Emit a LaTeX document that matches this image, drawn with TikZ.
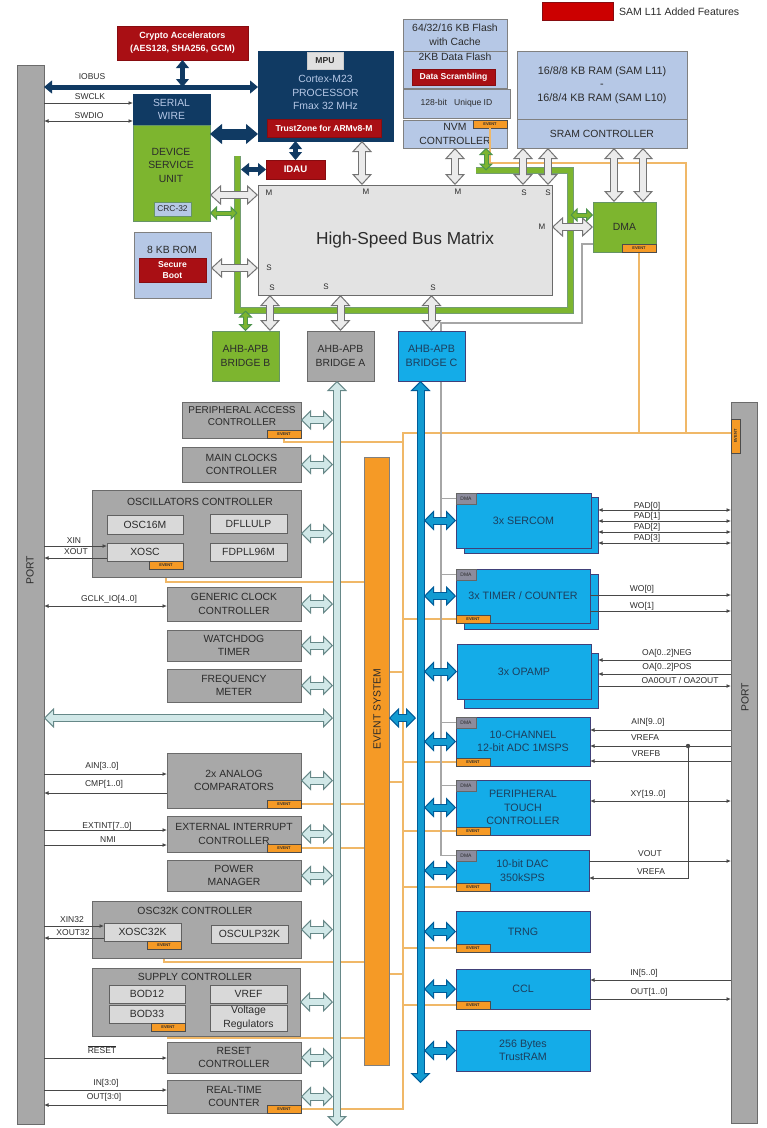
\documentclass[tikz,border=0pt]{standalone}
\usepackage{fontspec}
\setmainfont{Liberation Sans}
\usetikzlibrary{arrows.meta, backgrounds}
\definecolor{navyblk}{HTML}{103A63}
\definecolor{redblk}{HTML}{A90F14}
\definecolor{greenblk}{HTML}{7DB52F}
\definecolor{grayblk}{HTML}{A8A8A8}
\definecolor{paleblk}{HTML}{B6C8E6}
\definecolor{blueblk}{HTML}{14ACE8}
\definecolor{orangeblk}{HTML}{F59A26}
\definecolor{orangeline}{HTML}{F0B868}
\definecolor{ink}{HTML}{2B2B2B}
\definecolor{inkblue}{HTML}{1C3F5E}
\tikzset{
  box/.style n args = {4}{minimum width = {(#3-#1)*1pt}, minimum height = {(#4-#2)*1pt},
    at = {({(#1+#3)/2},{(#2+#4)/2})}},
  blk/.style = {draw = #1, line width = .9pt, inner sep = 0pt, outer sep = 0pt, align = center,
    text = ink, font = \fontsize{10.4}{13.5}\selectfont},
  grayb/.style = {blk = black!58, fill = grayblk},
  subb/.style = {blk = black!62, fill = black!15},
  blueb/.style = {blk = blue!30!black!75, fill = blueblk, text = inkblue,
    font = \fontsize{10.7}{13.5}\selectfont},
  greenb/.style = {blk = green!30!black!60, fill = greenblk},
  paleb/.style = {blk = black!50, fill = paleblk},
  navyb/.style = {blk = navyblk, fill = navyblk, text = paleblk},
  redb/.style = {blk = redblk!80!black, fill = redblk, text = white,
    font = \fontsize{8.6}{10.5}\selectfont\bfseries},
  evtag/.style = {blk = black!70, fill = orangeblk, minimum width = 34pt, minimum height = 8pt,
    font = \fontsize{4}{4}\selectfont\bfseries},
  dmatag/.style = {blk = black!60, fill = blue!15!black!45, minimum width = 20pt,
    minimum height = 11pt, font = \fontsize{5}{5}\selectfont},
  txt/.style = {inner sep = 0pt, text = ink, font = \fontsize{10.4}{13.5}\selectfont},
  siglabel/.style = {inner sep = 0pt, text = ink, font = \fontsize{8.5}{10}\selectfont},
  portmark/.style = {inner sep = 0pt, text = ink, font = \fontsize{8}{9}\selectfont},
  sig/.style = {draw = black!72, line width = .9pt},
  evline/.style = {draw = orangeline, line width = 1.5pt},
  dmaline/.style = {draw = black!35, line width = 1.4pt},
  fatbus/.style n args = {5}{draw = #1, line width = #5,
    arrows = {Triangle[width = #3, length = #4, line width = 1pt, color = #1, fill = #2]-%
      Triangle[width = #3, length = #4, line width = 1pt, color = #1, fill = #2]},
    postaction = {draw = #2, line width = {#5-2pt}, arrows = -,
      shorten < = {#4-2pt}, shorten > = {#4-2pt}}},
  graybus/.style = {fatbus = {black!55}{black!8}{20pt}{11pt}{8pt}},
  tealbus/.style = {fatbus = {teal!45!black!60}{teal!18!white}{20pt}{10pt}{8pt}},
  bluebus/.style = {fatbus = {blue!40!cyan!60!black}{blueblk!90!black}{20pt}{10pt}{8pt}},
  greenbus/.style = {fatbus = {green!40!black!70}{greenblk}{14pt}{7pt}{5pt}},
  navybus/.style = {fatbus = {navyblk}{navyblk}{20pt}{12pt}{11pt}},
  navythin/.style = {fatbus = {navyblk}{navyblk}{13pt}{8pt}{5pt}},
  greenrail/.style = {draw = green!30!black!55, line width = .9pt, double = greenblk,
    double distance = 4.6pt, line join = miter},
}
\begin{document}
\begin{tikzpicture}[x = 1pt, y = -1pt, > = {Latex[length = 4.5pt, width = 4pt]}]
  \useasboundingbox (0,0) rectangle (767,1128);
  \node (portl) [grayb, box = {17}{65}{44}{1124}] {};
  \node (portr) [grayb, box = {731}{402}{757}{1123}] {};
  \node (portltext) [txt, rotate = 90] at (30,570) {PORT};
  \node (portrtext) [txt, rotate = 90] at (745,697) {PORT};
  \node (portrev) [evtag, rotate = 90, minimum width = 34pt, minimum height = 9pt] at (735.5,436) {EVENT};
  \node (legend) [redb, fill = red!80!black, box = {542}{2}{613}{20}] {};
  \node (legendtext) [txt, anchor = west, font = \fontsize{10.5}{12}\selectfont] at (619,12) {SAM L11 Added Features};

  \node (crypto) [redb, box = {117}{26}{248}{60}, font = \fontsize{9}{13}\selectfont\bfseries]
    {Crypto Accelerators\\(AES128, SHA256, GCM)};
  \node (cpu) [navyb, box = {258}{51}{393}{141}] {};
  \node (mpu) [blk = black!20, fill = black!12, box = {307}{52}{343}{69},
    font = \fontsize{8.6}{10}\selectfont\bfseries] {MPU};
  \node (cputext) [txt, text = paleblk, align = center] at (325.5,92.5) {Cortex-M23\\PROCESSOR\\Fmax 32 MHz};
  \node (tzone) [redb, box = {267}{119}{381}{137}] {TrustZone for ARMv8-M};
  \node (swire) [navyb, box = {133}{94}{210}{125}] {SERIAL\\WIRE};
  \node (dsu) [greenb, box = {133}{125}{210}{221}] {};
  \node (dsutext) [txt, align = center] at (171,165) {DEVICE\\SERVICE\\UNIT};
  \node (crc) [paleb, draw = green!30!black!60, box = {154}{202}{191}{216},
    font = \fontsize{8.4}{10}\selectfont] {CRC-32};
  \node (idau) [redb, box = {266}{160}{325}{179}, font = \fontsize{9.6}{12}\selectfont\bfseries] {IDAU};
  \node (rom) [paleb, box = {134}{232}{211}{298}] {};
  \node (romtext) [txt] at (172,250) {8 KB ROM};
  \node (secboot) [redb, box = {139}{258}{206}{282}] {Secure\\Boot};
  \node (busmatrix) [blk = black!58, fill = black!11, box = {258}{185}{552}{295},
    font = \fontsize{17.3}{20}\selectfont] {High-Speed Bus Matrix};

  \node (flash) [paleb, box = {403}{19}{507}{51}] {64/32/16 KB Flash\\with Cache};
  \node (dflash) [paleb, box = {403}{51}{507}{88}] {};
  \node (dflashtext) [txt] at (455,57) {2KB Data Flash};
  \node (scramble) [redb, box = {412}{69}{495}{85}] {Data Scrambling};
  \node (uid) [paleb, box = {403}{89}{510}{118}, font = \fontsize{8.6}{10}\selectfont] {128-bit \ \ Unique ID};
  \node (nvmc) [paleb, box = {403}{120}{507}{148}] {NVM\\CONTROLLER};
  \node (nvm-ev) [evtag, anchor = north east] at (nvmc.north east) {EVENT};
  \node (sram) [paleb, box = {517}{51}{687}{119}, font = \fontsize{10.8}{13.5}\selectfont]
    {16/8/8 KB RAM (SAM L11)\\-\\16/8/4 KB RAM (SAM L10)};
  \node (sramc) [paleb, box = {517}{119}{687}{148}] {SRAM CONTROLLER};
  \node (dma) [greenb, box = {593}{202}{656}{252}] {DMA};
  \node (dma-ev) [evtag, anchor = south east] at (dma.south east) {EVENT};

  \node (bridgeb) [greenb, box = {212}{331}{279}{381}] {AHB-APB\\BRIDGE B};
  \node (bridgea) [grayb, box = {307}{331}{374}{381}] {AHB-APB\\BRIDGE A};
  \node (bridgec) [blueb, box = {398}{331}{465}{381}] {AHB-APB\\BRIDGE C};

  \node (pac) [grayb, box = {182}{402}{301}{438}] {};
  \node (pactext) [txt, align = center, font = \fontsize{10}{12}\selectfont] at (242,416)
    {PERIPHERAL ACCESS\\CONTROLLER};
  \node (mcc) [grayb, box = {182}{447}{301}{482}] {MAIN CLOCKS\\CONTROLLER};
  \node (osc) [grayb, box = {92}{490}{301}{577}] {};
  \node (osctext) [txt] at (200,502) {OSCILLATORS CONTROLLER};
  \node (osc16) [subb, box = {107}{515}{183}{534}] {OSC16M};
  \node (dfll) [subb, box = {210}{514}{287}{533}] {DFLLULP};
  \node (xosc) [subb, box = {107}{543}{183}{561}] {XOSC};
  \node (fdpll) [subb, box = {210}{543}{287}{561}] {FDPLL96M};
  \node (osc-ev) [evtag, anchor = north east] at (xosc.south east) {EVENT};
  \node (gclk) [grayb, box = {167}{587}{301}{621}] {GENERIC CLOCK\\CONTROLLER};
  \node (wdt) [grayb, box = {167}{630}{301}{661}] {WATCHDOG\\TIMER};
  \node (freqm) [grayb, box = {167}{669}{301}{702}] {FREQUENCY\\METER};
  \node (ac) [grayb, box = {167}{753}{301}{808}] {2x ANALOG\\COMPARATORS};
  \node (eic) [grayb, box = {167}{816}{301}{852}] {EXTERNAL INTERRUPT\\CONTROLLER};
  \node (pm) [grayb, box = {167}{860}{301}{891}] {POWER\\MANAGER};
  \node (oscck) [grayb, box = {92}{901}{301}{958}] {};
  \node (oscckt) [txt] at (195,911) {OSC32K CONTROLLER};
  \node (xosck) [subb, box = {104}{923}{181}{941}] {XOSC32K};
  \node (osculp) [subb, box = {211}{925}{288}{943}] {OSCULP32K};
  \node (oscck-ev) [evtag, anchor = north east] at (xosck.south east) {EVENT};
  \node (supply) [grayb, box = {92}{968}{300}{1036}] {};
  \node (supplyt) [txt] at (195,977) {SUPPLY CONTROLLER};
  \node (bod12) [subb, box = {109}{985}{185}{1003}] {BOD12};
  \node (bod33) [subb, box = {109}{1005}{185}{1023}] {BOD33};
  \node (vref) [subb, box = {210}{985}{287}{1003}] {VREF};
  \node (vreg) [subb, box = {210}{1005}{287}{1031}] {Voltage\\Regulators};
  \node (supply-ev) [evtag, anchor = north east] at (bod33.south east) {EVENT};
  \node (reset) [grayb, box = {167}{1042}{301}{1073}] {RESET\\CONTROLLER};
  \node (rtc) [grayb, box = {167}{1080}{301}{1113}] {REAL-TIME\\COUNTER};
  \foreach \n in {pac, ac, eic, rtc}
    \node (\n-ev) [evtag, anchor = south east] at (\n.south east) {EVENT};

  \node (evsys) [blk = black!50, fill = orangeblk, box = {364}{457}{389}{1065}] {};
  \node (evsystext) [txt, rotate = 90] at (377,709) {EVENT SYSTEM};

  \node (sercomb) [blueb, box = {464}{497}{598}{553}] {};
  \node (sercom) [blueb, box = {456}{493}{591}{548}] {3x SERCOM};
  \node (tcb) [blueb, box = {464}{574}{598}{629}] {};
  \node (tc) [blueb, box = {456}{569}{590}{623}] {3x TIMER / COUNTER};
  \node (opampb) [blueb, box = {464}{653}{598}{708}] {};
  \node (opamp) [blueb, box = {457}{644}{591}{699}] {3x OPAMP};
  \node (adc) [blueb, box = {456}{717}{590}{766}] {10-CHANNEL\\12-bit ADC 1MSPS};
  \node (ptc) [blueb, box = {456}{780}{590}{835}] {PERIPHERAL\\TOUCH\\CONTROLLER};
  \node (dac) [blueb, box = {456}{850}{589}{891}] {10-bit DAC\\350kSPS};
  \node (trng) [blueb, box = {456}{911}{590}{952}] {TRNG};
  \node (ccl) [blueb, box = {456}{969}{590}{1009}] {CCL};
  \node (tram) [blueb, box = {456}{1030}{590}{1071}] {256 Bytes\\TrustRAM};
  \foreach \n in {tc, adc, ptc, dac, trng, ccl}
    \node (\n-ev) [evtag, anchor = south west] at (\n.south west) {EVENT};
  \foreach \n in {sercom, tc, adc, ptc, dac}
    \node (\n-dma) [dmatag, anchor = north west] at (\n.north west) {DMA};

  \foreach \t/\x/\y in {M/269/193, M/366/192, M/458/192, M/542/227, S/269/268, S/272/288,
      S/326/287, S/433/288, S/524/193, S/548/193}
    \node (mark\x) [portmark] at (\x,\y) {\t};

  \coordinate (evtrunk) at (403,433);
  \coordinate (evjoin) at (686,433);
  \coordinate (dmatrunk) at (441,323);
  \coordinate (gbtl) at (476,170.5);
  \coordinate (gbtr) at (570.5,170.5);
  \coordinate (gbbr) at (570.5,310.5);
  \coordinate (gbbl) at (237.5,310.5);
  \coordinate (gbstart) at (237.5,156);
  \coordinate (busatop) at (337,381);
  \coordinate (busabot) at (337,1126);
  \coordinate (busctop) at (420.5,381);
  \coordinate (buscbot) at (420.5,1083);
  \coordinate (busaleft) at (333,718);
  \coordinate (buscleft) at (416,718);
  \coordinate (buscright) at (424,718);

  \begin{pgfonlayer}{background}
    \draw [evline] (portr.west |- evtrunk) -- (evtrunk) -- (evtrunk |- rtc-ev) -- (rtc-ev.east);
    \draw [evline] (dma-ev.south) -- (dma-ev.south |- evtrunk);
    \draw [evline] (pac-ev.south) |- (evtrunk |- 0,442);
    \draw [evline] (osc-ev.south) |- (evsys.west |- 0,582);
    \draw [evline] (oscck-ev.south) |- (evsys.west |- 0,962);
    \draw [evline] (supply-ev.south) |- (evsys.west |- 0,1038);
    \foreach \n in {ac, eic}
      \draw [evline] (\n-ev.east) -- (evsys.west |- \n-ev);
    \foreach \y in {672, 782, 974}
      \draw [evline] (evsys.east |- 0,\y) -- (evtrunk |- 0,\y);
    \foreach \n in {tc, adc, ptc, dac, trng, ccl}
      \draw [evline] (evtrunk |- \n-ev) -- (\n-ev.west);
    \draw [dmaline] (dma.west |- 0,244) -| (582,323) -- (dmatrunk) -- (dmatrunk |- dac-dma);
    \foreach \n in {sercom, tc, adc, ptc, dac}
      \draw [dmaline] (dmatrunk |- \n-dma) -- (\n-dma.west);
  \end{pgfonlayer}

  \draw [evline] (nvm-ev.south) -- (nvm-ev.south |- 0,163) -| (evjoin);
  \draw [greenrail] (gbstart) -- (gbbl) -- (gbbr) -- (gbtr) -- (gbtl);

  \draw [navythin] ([yshift = 9pt]cpu.west) -- ([yshift = 9pt]cpu.west -| portl.east);
  \draw [navythin] (crypto.south) -- (crypto.south |- 0,87);
  \draw [navybus] ([yshift = -9pt]dsu.north east) -- ([yshift = -9pt]dsu.north east -| cpu.west);
  \draw [navythin] (idau.north) -- (idau.north |- cpu.south);
  \draw [navythin] (idau.west) -- ([xshift = 3.5pt]idau.west -| gbstart);

  \draw [graybus] ([xshift = 36.5pt]cpu.south) -- ([xshift = 36.5pt]cpu.south |- busmatrix.north);
  \draw [graybus] ([yshift = -22pt]dsu.east) -- ([yshift = -22pt]dsu.east -| busmatrix.west);
  \draw [graybus] ([yshift = -3pt]rom.east) -- ([yshift = -3pt]rom.east -| busmatrix.west);
  \draw [graybus] (nvmc.south) -- (nvmc.south |- busmatrix.north);
  \draw [graybus] ([xshift = -79pt]sramc.south) -- ([xshift = -79pt]sramc.south |- busmatrix.north);
  \draw [graybus] ([xshift = -54pt]sramc.south) -- ([xshift = -54pt]sramc.south |- busmatrix.north);
  \draw [graybus] ([xshift = -10.5pt]dma.north) -- ([xshift = -10.5pt]dma.north |- sramc.south);
  \draw [graybus] ([xshift = 18.5pt]dma.north) -- ([xshift = 18.5pt]dma.north |- sramc.south);
  \draw [graybus] (dma.west) -- (dma.west -| busmatrix.east);
  \draw [graybus] ([xshift = 24.5pt]bridgeb.north) -- ([xshift = 24.5pt]bridgeb.north |- busmatrix.south);
  \draw [graybus] (bridgea.north) -- (bridgea.north |- busmatrix.south);
  \draw [graybus] (bridgec.north) -- (bridgec.north |- busmatrix.south);

  \draw [greenbus] ([yshift = -40pt]dsu.east) -- ([yshift = -40pt]dsu.east -| gbstart);
  \draw [greenbus] (bridgeb.north) -- (bridgeb.north |- gbbl);
  \draw [greenbus] ([xshift = 31pt]nvmc.south) -- ([xshift = 31pt]nvmc.south |- gbtl);
  \draw [greenbus] ([yshift = 12pt]dma.west) -- ([yshift = 12pt]dma.west -| gbtr);

  \foreach \n in {pac, mcc, osc, gclk, wdt, freqm, ac, eic, pm, oscck, supply, reset, rtc}
    \draw [tealbus] (\n.east) -- (\n.east -| busaleft);
  \draw [tealbus] (portl.east |- busaleft) -- (busaleft);
  \draw [tealbus] (busatop) -- (busabot);
  \foreach \n in {sercom, tc, opamp, adc, ptc, dac, trng, ccl, tram}
    \draw [bluebus] (\n.west) -- (\n.west -| buscright);
  \draw [bluebus] (evsys.east |- buscleft) -- (buscleft);
  \draw [bluebus] (busctop) -- (buscbot);

  \foreach \s/\y/\n in {->/103/swire, <->/121/swire, ->/546/xosc, <-/558/xosc, <->/606/gclk,
      ->/774/ac, <-/793/ac, ->/830/eic, ->/845/eic, ->/926/xosck, <-/938/xosck,
      ->/1058/reset, ->/1090/rtc, <-/1105/rtc}
    \draw [sig, \s] (portl.east |- 0,\y) -- (\n.west |- 0,\y);
  \foreach \s/\y/\n in {<->/510/sercomb, <->/521/sercomb, <->/532/sercomb, <->/543/sercomb,
      ->/595/tc, ->/611/tc, <-/660/opampb, <-/674/opampb, ->/686/opampb,
      <-/730/adc, <-/746/adc, <-/761/adc, <->/801/ptc, ->/861/dac, <-/980/ccl, ->/999/ccl}
    \draw [sig, \s] (\n.east |- 0,\y) -- (portr.west |- 0,\y);
  \coordinate (vrefdot) at (688,746);
  \fill [black!70] (vrefdot) circle (2.2);
  \draw [sig, ->] (vrefdot) |- (dac.east |- 0,878);

  \foreach \t/\x/\y [count = \i] in {IOBUS/92/77, SWCLK/90/97, SWDIO/89/116, XIN/74/541, XOUT/76/552,
      GCLK\_IO[4..0]/109/599, AIN[3..0]/102/766, CMP[1..0]/104/784, EXTINT[7..0]/107/826,
      NMI/108/840, XIN32/72/920, XOUT32/73/933, $\overline{\mbox{RESET}}$/102/1050,
      IN[3:0]/106/1083, OUT[3:0]/104/1097, PAD[0]/647/506, PAD[1]/647/516, PAD[2]/647/527,
      PAD[3]/647/538, WO[0]/642/589, WO[1]/642/606, OA[0..2]NEG/667/653, OA[0..2]POS/667/667,
      {OA0OUT / OA2OUT}/680/680, AIN[9..0]/648/722, VREFA/645/738, VREFB/646/754,
      XY[19..0]/648/794, VOUT/650/854, VREFA/651/872, IN[5..0]/644/973, OUT[1..0]/649/992}
    \node (siglabel\i) [siglabel] at (\x,\y) {\t};
\end{tikzpicture}
\end{document}
